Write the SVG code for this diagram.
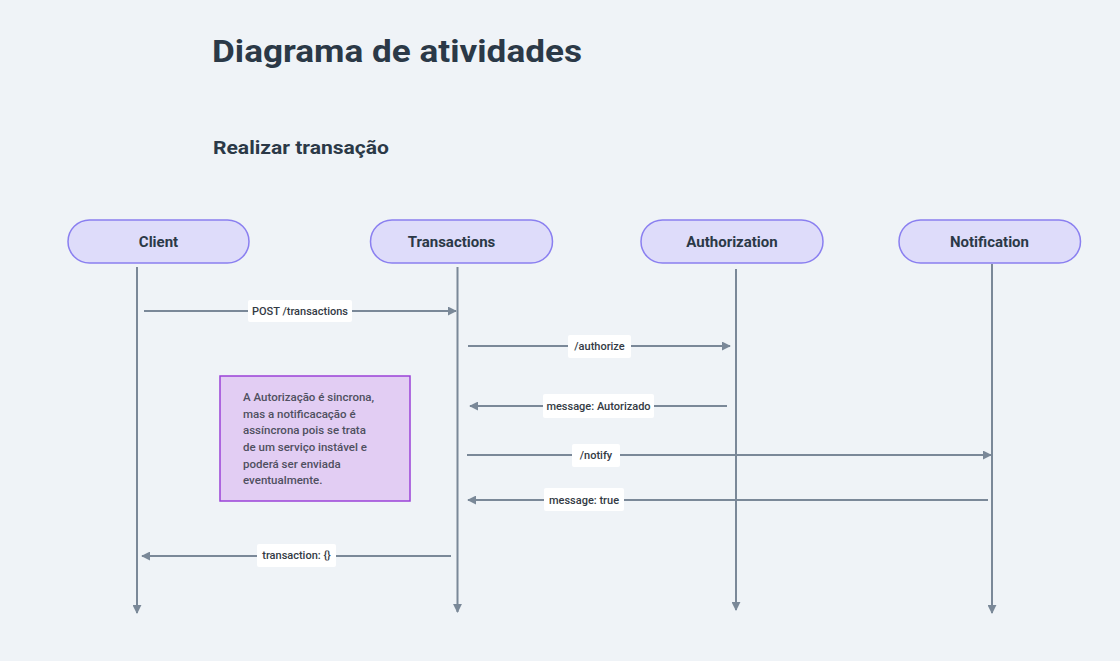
<svg xmlns="http://www.w3.org/2000/svg" width="1120" height="661" viewBox="0 0 1120 661">
<style>
.title{font-family:Roboto,"Liberation Sans",sans-serif;font-weight:700;fill:#2b3947}
.node rect{fill:#dedcfa;stroke:#8a7ff0;stroke-width:1.5}
.node text{font-family:Roboto,"Liberation Sans",sans-serif;font-weight:700;font-size:15px;fill:#2b3947;text-anchor:middle}
.life{stroke:#7a8898;stroke-width:2;fill:none;marker-end:url(#ah)}
.msg{stroke:#7a8898;stroke-width:2;fill:none;marker-end:url(#ah)}
.lbl rect{fill:#ffffff}
.lbl text{font-family:Roboto,"Liberation Sans",sans-serif;font-size:11px;font-weight:500;fill:#333a44;text-anchor:middle}
.note text{font-family:Roboto,"Liberation Sans",sans-serif;font-size:11.5px;font-weight:500;fill:#4f5060}
</style>
<defs>
<marker id="ah" viewBox="0 0 10 10" refX="9" refY="5" markerWidth="4.5" markerHeight="4.5" orient="auto" markerUnits="strokeWidth">
<path d="M0,0 L10,5 L0,10 z" fill="#7a8898"/>
</marker>
</defs>
<rect width="1120" height="661" fill="#eff3f7"/>
<text class="title" x="212" y="62" font-size="31" textLength="370" lengthAdjust="spacingAndGlyphs">Diagrama de atividades</text>
<text class="title" x="213" y="154" font-size="19" textLength="176" lengthAdjust="spacingAndGlyphs">Realizar transação</text>

<g id="connectors">
<line class="life" x1="137" y1="267" x2="137" y2="613"/>
<line class="life" x1="457.5" y1="267" x2="457.5" y2="612"/>
<line class="life" x1="736" y1="269" x2="736" y2="610"/>
<line class="life" x1="992" y1="264" x2="992" y2="613"/>
<line class="msg" x1="144" y1="311" x2="456" y2="311"/>
<line class="msg" x1="468" y1="346" x2="730" y2="346"/>
<line class="msg" x1="727" y1="406" x2="470" y2="406"/>
<line class="msg" x1="467" y1="455" x2="991" y2="455"/>
<line class="msg" x1="988" y1="500" x2="468" y2="500"/>
<line class="msg" x1="451" y1="556" x2="142" y2="556"/>
<g class="lbl">
<rect x="248" y="300" width="104" height="22" rx="2"/>
<text x="300" y="315">POST /transactions</text>
<rect x="568" y="335" width="63" height="23" rx="2"/>
<text x="599.5" y="350">/authorize</text>
<rect x="543" y="394" width="111" height="24" rx="2"/>
<text x="598.5" y="410">message: Autorizado</text>
<rect x="572" y="444" width="48" height="23" rx="2"/>
<text x="596" y="459">/notify</text>
<rect x="544" y="488" width="80" height="23" rx="2"/>
<text x="584" y="504">message: true</text>
<rect x="257" y="544" width="79" height="23" rx="2"/>
<text x="296.5" y="559">transaction: {}</text>
</g>
</g>

<g id="client" class="node">
<rect x="68" y="220" width="181" height="43" rx="21.5"/>
<text x="158.5" y="247">Client</text>
</g>
<g id="transactions" class="node">
<rect x="370.5" y="220" width="182" height="43" rx="21.5"/>
<text x="451.5" y="247">Transactions</text>
</g>
<g id="authorization" class="node">
<rect x="641" y="220" width="182" height="43" rx="21.5"/>
<text x="732" y="247">Authorization</text>
</g>
<g id="notification" class="node">
<rect x="899" y="220" width="181.5" height="43" rx="21.5"/>
<text x="989.5" y="247">Notification</text>
</g>

<g id="note" class="note">
<rect x="220" y="376" width="190" height="125" fill="#e2cdf3" stroke="#9a42d8" stroke-width="1.5"/>
<text x="243" y="401">A Autorização é sincrona,</text>
<text x="243" y="418">mas a notificacação é</text>
<text x="243" y="434">assíncrona pois se trata</text>
<text x="243" y="451">de um serviço instável e</text>
<text x="243" y="468">poderá ser enviada</text>
<text x="243" y="484">eventualmente.</text>
</g>
</svg>
